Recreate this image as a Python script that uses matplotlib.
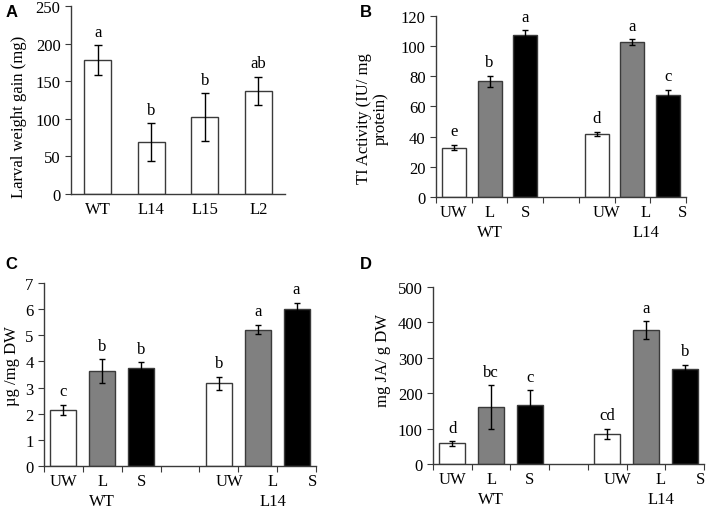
import numpy as np
import matplotlib
matplotlib.use("Agg")
import matplotlib.pyplot as plt
import matplotlib.transforms as mtransforms

plt.rcParams["font.family"] = ["Liberation Serif", "DejaVu Serif"]
plt.rcParams["font.size"] = 12

# Panel A data
a_lines = ["WT", "L14", "L15", "L2"]
a_gain = [178, 69, 102, 137]
a_err = [20, 25, 32, 19]
a_sig = ["a", "b", "b", "ab"]

# Treatments shared by B, C, D
treat = ["UW", "L", "S"]
groups = ["WT", "L14"]
bar_colors = ["white", "#808080", "black"]

# Panel B: TI activity
b_vals = [32.8, 76.6, 107.3, 41.6, 102.8, 67.8]
b_err = [1.7, 3.6, 3.2, 1.5, 1.8, 3.2]
b_sig = ["e", "b", "a", "d", "a", "c"]

# Panel C: ug/mg DW
c_vals = [2.16, 3.62, 3.75, 3.16, 5.22, 6.01]
c_err = [0.19, 0.46, 0.22, 0.25, 0.18, 0.23]
c_sig = ["c", "b", "b", "b", "a", "a"]

# Panel D: mg JA / g DW
d_vals = [58, 161, 167, 85, 378, 268]
d_err = [6, 62, 41, 15, 25, 13]
d_sig = ["d", "bc", "c", "cd", "a", "b"]

EDGE = "#3a3a3a"
FS = 12


def style_axes(ax):
    for s in ["top", "right"]:
        ax.spines[s].set_visible(False)
    for s in ["left", "bottom"]:
        ax.spines[s].set_color(EDGE)
        ax.spines[s].set_linewidth(1.0)
    ax.tick_params(axis="y", direction="out", length=4, color=EDGE, labelsize=FS, pad=3.5)


def letters(ax, xs, vals, errs, labs):
    for x, v, e, t in zip(xs, vals, errs, labs):
        ax.annotate(t, (x, v + e), xytext=(0, 4), textcoords="offset points",
                    ha="center", va="bottom", fontsize=FS)


def grouped_panel(ax, vals, errs, sig, ymax, ystep, ylabel, lab_xy):
    pos = np.array([0, 1, 2, 4, 5, 6])
    cols = bar_colors * 2
    ax.bar(pos, vals, width=0.67, color=cols, edgecolor=EDGE, linewidth=1.0, zorder=2)
    ax.errorbar(pos, vals, yerr=errs, fmt="none", ecolor="black", elinewidth=1.0,
                capsize=2.5, capthick=1.0, zorder=3)
    letters(ax, pos, vals, errs, sig)
    ax.set_xlim(-0.5, 6.5)
    ax.set_ylim(0, ymax)
    ax.set_yticks(np.arange(0, ymax + ystep / 2, ystep))
    ax.set_xticks(np.arange(-0.5, 7, 1))
    ax.set_xticklabels([])
    ax.tick_params(axis="x", direction="out", length=4, color=EDGE)
    style_axes(ax)
    trans = mtransforms.blended_transform_factory(ax.transData, ax.transAxes)
    lab_x = [0, 1, 2, 4.27, 5.38, 6.4]
    for x, t in zip(lab_x, treat * 2):
        ax.annotate(t, (x, 0), xycoords=trans, xytext=(0, -11), textcoords="offset points",
                    ha="center", va="center", fontsize=FS)
    for x, g in zip([1, 5.38], groups):
        ax.annotate(g, (x, 0), xycoords=trans, xytext=(0, -25), textcoords="offset points",
                    ha="center", va="center", fontsize=FS)
    ax.set_ylabel(ylabel, fontsize=FS, linespacing=1.0)
    ax.yaxis.set_label_coords(*lab_xy)


fig = plt.figure(figsize=(7.08, 5.10), dpi=100)

# Panel A
axA = fig.add_axes([0.1003, 0.6176, 0.3022, 0.3687])
xa = np.arange(len(a_lines))
axA.bar(xa, a_gain, width=0.5, color="white", edgecolor=EDGE, linewidth=1.0, zorder=2)
axA.errorbar(xa, a_gain, yerr=a_err, fmt="none", ecolor="black", elinewidth=1.0,
             capsize=3, capthick=1.0, zorder=3)
letters(axA, xa, a_gain, a_err, a_sig)
axA.set_xlim(-0.5, 3.5)
axA.set_ylim(0, 250)
axA.set_yticks(np.arange(0, 251, 50))
axA.set_xticks(xa)
axA.set_xticklabels(a_lines, fontsize=FS)
axA.tick_params(axis="x", length=0, pad=5)
style_axes(axA)
axA.set_ylabel("Larval weight gain (mg)", fontsize=FS)
axA.yaxis.set_label_coords(-0.206, 0.415)

# Panel B
axB = fig.add_axes([0.6158, 0.6118, 0.3532, 0.3549])
grouped_panel(axB, b_vals, b_err, b_sig, 120, 20, "TI Activity (IU/ mg\nprotein)", (-0.19, 0.44))

# Panel C
axC = fig.add_axes([0.0621, 0.0843, 0.3842, 0.3588])
grouped_panel(axC, c_vals, c_err, c_sig, 7, 1, "\u00b5g /mg DW", (-0.088, 0.55))

# Panel D
axD = fig.add_axes([0.6116, 0.0882, 0.3828, 0.3471])
grouped_panel(axD, d_vals, d_err, d_sig, 500, 100, "mg JA/ g DW", (-0.155, 0.59))

# Panel letters
for x, y, t in [(0.008, 0.975, "A"), (0.508, 0.975, "B"), (0.008, 0.482, "C"), (0.508, 0.482, "D")]:
    fig.text(x, y, t, fontsize=12, fontweight="bold", family="Liberation Sans", va="center")

fig.savefig("out.png", dpi=100)
